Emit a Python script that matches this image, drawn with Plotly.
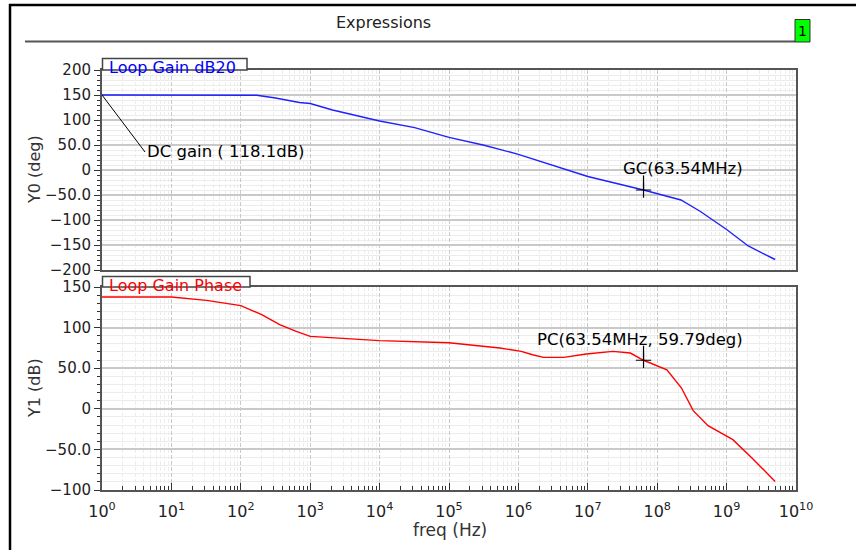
import math
import plotly.graph_objects as go

# ---- Loop gain magnitude (blue) ----
f_gain = [1, 10, 100, 170, 316, 700, 1e3, 2.1e3, 1e4, 3.2e4, 1e5, 3.1e5, 1e6,
          3.8e6, 1e7, 6.354e7, 2.2e8, 4.2e8, 1e9, 2.05e9, 5e9]
gain = [150, 150, 150, 149.5, 144, 135, 133, 120, 98, 84.7, 65.3, 50, 31.3,
        5.3, -13, -40, -60, -83, -119, -152, -179]

# ---- Loop gain phase (red) ----
f_phase = [1, 10, 32, 100, 200, 363, 630, 1e3, 1e4, 1e5, 5.4e5, 1.1e6, 1.6e6,
           2.3e6, 4.5e6, 9.5e6, 2.3e7, 4.1e7, 6.354e7, 1.38e8, 2.24e8, 3.3e8,
           5.4e8, 1.23e9, 2.4e9, 5e9]
phase = [137.7, 137.7, 133.5, 127, 116, 103.6, 95.3, 89.2, 83.9, 81.4, 74.9,
         70.7, 66.6, 63.3, 63.3, 67.5, 70.7, 68.7, 59.79, 48, 25.6, -2.3,
         -20.8, -38, -61.8, -89.4]

# ---- Markers ----
dc_gain_db = 118.1
gc_freq = 63.54e6
gc_val = -40
pc_freq = 63.54e6
pc_val = 59.79

# ---- Axis ticks ----
decades = list(range(0, 11))
y0_ticks = [-200, -150, -100, -50, 0, 50, 100, 150, 200]
y1_ticks = [-100, -50, 0, 50, 100, 150]

W, H = 856, 550
FONT = "DejaVu Sans"


def px(x):
    return x / W


def py(y):
    return 1 - y / H


def fmt(v):
    if v == 0:
        s = "0"
    elif abs(v) < 100:
        s = f"{v:.1f}"
    else:
        s = f"{v:.0f}"
    return s.replace("-", "\u2212")


x_major = [10 ** d for d in decades]
x_major_text = [f"10<sup>{d}</sup>" for d in decades]
x_minor = [k * 10 ** d for d in decades[:-1] for k in range(2, 10)]

AX = "#555555"
GRID_MAJ = "#c9c9c9"
GRID_MIN = "#ececec"

fig = go.Figure()
fig.add_trace(go.Scatter(x=f_gain, y=gain, mode="lines", xaxis="x", yaxis="y",
                         line=dict(color="#2020ff", width=1.4), hoverinfo="skip"))
fig.add_trace(go.Scatter(x=f_phase, y=phase, mode="lines", xaxis="x2", yaxis="y2",
                         line=dict(color="#ff0000", width=1.4), hoverinfo="skip"))
fig.add_trace(go.Scatter(x=[gc_freq], y=[gc_val], mode="markers", xaxis="x", yaxis="y",
                         marker=dict(symbol="cross-thin", size=11,
                                     line=dict(color="black", width=1.2)),
                         hoverinfo="skip"))
fig.add_trace(go.Scatter(x=[pc_freq], y=[pc_val], mode="markers", xaxis="x2", yaxis="y2",
                         marker=dict(symbol="cross-thin", size=11,
                                     line=dict(color="black", width=1.2)),
                         hoverinfo="skip"))

xdom = [px(102), px(796)]


def xaxis_common(show_labels):
    d = dict(
        type="log", range=[0, 10], domain=xdom, automargin=False,
        tickmode="array", tickvals=x_major, ticktext=x_major_text,
        showticklabels=show_labels,
        showgrid=True, gridcolor=GRID_MAJ, gridwidth=1, griddash="4px,2px",
        showline=True, linecolor=AX, linewidth=2, mirror=True,
        zeroline=False,
        tickfont=dict(family=FONT, size=16, color="#222"),
        minor=dict(tickmode="array", tickvals=x_minor, showgrid=True,
                   gridcolor=GRID_MIN, gridwidth=1),
    )
    if show_labels:
        d.update(ticks="inside", ticklen=7, tickcolor="#333", tickwidth=1,
                 ticklabelstandoff=6)
        d["minor"].update(ticks="inside", ticklen=4, tickcolor="#333", tickwidth=1)
    else:
        d.update(ticks="")
    return d


def yaxis_common(ticks, rng, dom, anchor):
    return dict(
        range=rng, domain=dom, anchor=anchor, automargin=False,
        tickmode="array", tickvals=ticks, ticktext=[fmt(v) for v in ticks],
        ticks="outside", ticklen=6, tickcolor="#333", tickwidth=1,
        showgrid=True, gridcolor=GRID_MAJ, gridwidth=1.5,
        showline=True, linecolor=AX, linewidth=2, mirror=True,
        zeroline=False,
        tickfont=dict(family=FONT, size=15, color="#222"),
        minor=dict(tickmode="linear", tick0=0, dtick=10, ticks="outside",
                   ticklen=3, tickcolor="#333", tickwidth=1,
                   showgrid=True, gridcolor=GRID_MIN, gridwidth=1),
    )


xa2 = xaxis_common(True)
xa2.update(anchor="y2")
xa1 = xaxis_common(False)
xa1.update(anchor="y", matches="x2")

fig.update_layout(
    width=W, height=H,
    margin=dict(l=0, r=0, t=0, b=0, pad=0, autoexpand=False),
    paper_bgcolor="white", plot_bgcolor="white",
    showlegend=False, hovermode=False,
    xaxis=xa1, xaxis2=xa2,
    yaxis=yaxis_common(y0_ticks, [-200, 200], [py(270), py(70)], "x"),
    yaxis2=yaxis_common(y1_ticks, [-100, 150], [py(490), py(287)], "x2"),
)

shapes = [
    # window frame
    dict(type="line", xref="paper", yref="paper", x0=px(10), x1=px(10),
         y0=py(4), y1=py(550), line=dict(color="black", width=2.5)),
    dict(type="line", xref="paper", yref="paper", x0=px(9), x1=px(856),
         y0=py(5), y1=py(5), line=dict(color="black", width=2.5)),
    # header underline
    dict(type="line", xref="paper", yref="paper", x0=px(25), x1=px(795),
         y0=py(41.5), y1=py(41.5), line=dict(color="#555", width=2)),
    # page number box
    dict(type="rect", xref="paper", yref="paper", x0=px(795), x1=px(810),
         y0=py(42), y1=py(19.5), fillcolor="#00ff00", line=dict(color="#333", width=1)),
    # trace name tabs
    dict(type="rect", xref="paper", yref="paper", x0=px(102.5), x1=px(247),
         y0=py(70), y1=py(58.5), fillcolor="white", line=dict(color="#444", width=1.5)),
    dict(type="rect", xref="paper", yref="paper", x0=px(102.5), x1=px(250),
         y0=py(287), y1=py(276.5), fillcolor="white", line=dict(color="#444", width=1.5)),
]
fig.update_layout(shapes=shapes)

txt = dict(family=FONT, size=16.5, color="black")


def paper_text(x, y, text, font, xanchor="center", angle=0):
    return dict(xref="paper", yref="paper", x=px(x), y=py(y), text=text,
                xanchor=xanchor, yanchor="middle", showarrow=False, font=font,
                textangle=angle)


annotations = [
    paper_text(383, 22, "Expressions", dict(family=FONT, size=16, color="#222")),
    paper_text(802.5, 31, "1", dict(family=FONT, size=14, color="black")),
    paper_text(107, 67, "Loop Gain dB20", dict(family=FONT, size=16, color="#0000ff"),
               xanchor="left"),
    paper_text(107, 285.5, "Loop Gain Phase", dict(family=FONT, size=16, color="#ff0000"),
               xanchor="left"),
    # axis titles
    paper_text(34, 170, "Y0 (deg)", dict(family=FONT, size=16, color="#333"), angle=-90),
    paper_text(34, 388, "Y1 (dB)", dict(family=FONT, size=16, color="#333"), angle=-90),
    paper_text(450, 530, "freq (Hz)", dict(family=FONT, size=17, color="#333")),
    # DC gain callout
    dict(xref="x", yref="y", x=math.log10(f_gain[0]), y=gain[0],
         text=f"DC gain ( {dc_gain_db}dB)", xanchor="left", yanchor="middle",
         showarrow=True, arrowhead=0, arrowwidth=1, arrowcolor="black",
         ax=43, ay=57, font=dict(family=FONT, size=16.5, color="black")),
    # gain crossover
    dict(xref="x", yref="y", x=math.log10(gc_freq), y=gc_val, text="",
         showarrow=True, arrowhead=0, arrowwidth=1.2, arrowcolor="black",
         ax=0, ay=-16),
    dict(xref="x", yref="y", x=math.log10(gc_freq), y=gc_val,
         text=f"GC({gc_freq / 1e6:.2f}MHz)", xanchor="right", yanchor="middle",
         xshift=101, yshift=21, showarrow=False, font=txt),
    # phase at crossover
    dict(xref="x2", yref="y2", x=math.log10(pc_freq), y=pc_val, text="",
         showarrow=True, arrowhead=0, arrowwidth=1.2, arrowcolor="black",
         ax=0, ay=-16),
    dict(xref="x2", yref="y2", x=math.log10(pc_freq), y=pc_val,
         text=f"PC({pc_freq / 1e6:.2f}MHz, {pc_val}deg)", xanchor="right",
         yanchor="middle", xshift=101, yshift=21, showarrow=False, font=txt),
]
fig.update_layout(annotations=annotations)

fig.write_html("out.html", config={"displayModeBar": False})
